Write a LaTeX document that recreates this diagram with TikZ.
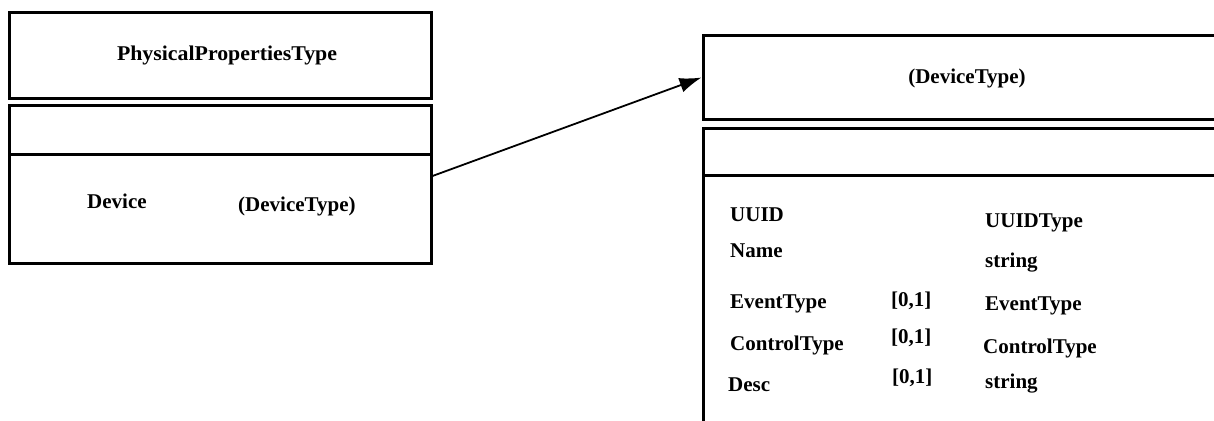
\documentclass[tikz,border=0pt]{standalone}
\usepackage{fontspec}
\setmainfont{Liberation Serif}
\usetikzlibrary{arrows.meta}
\begin{document}
\begin{tikzpicture}[x=1pt,y=-1pt,
  box/.style={draw=black,line width=3pt,rectangle,inner sep=0pt},
  lbl/.style={inner sep=0pt,font=\fontsize{21}{25}\selectfont\bfseries},
  lw/.style={lbl,anchor=base west},
  link/.style={line width=1.8pt,-{Latex[length=22pt,width=15pt]}}]
\useasboundingbox (0,0) rectangle (1214,420);
\clip (0,0) rectangle (1214,420);
\fill[white] (0,0) rectangle (1214,420);

% PhysicalPropertiesType class
\node[box,minimum width=422pt,minimum height=85pt] (pphead) at (220,55.5) {};
\node[box,minimum width=422pt,minimum height=158pt] (ppbody) at (220,184) {};
\coordinate (ppdiv) at (9,154);
\draw[line width=3pt] (ppdiv) -- (ppdiv -| ppbody.east);
\node[lbl,anchor=base,xscale=1.04] (ppname) at (227,60) {PhysicalPropertiesType};
\node[lw] (ppattr) at (87,208) {Device};
\node[lw] (ppattrtype) at (238,211) {(DeviceType)};

% DeviceType class (runs past the right edge)
\node[box,minimum width=540pt,minimum height=83pt] (dthead) at (973,77.5) {};
\node[box,minimum width=540pt,minimum height=320pt] (dtbody) at (973,288) {};
\coordinate (dtdiv) at (703,175);
\draw[line width=3pt] (dtdiv) -- ++(540,0);
\node[lbl,anchor=base] (dtname) at (967,83) {(DeviceType)};

\node[lw] (a1) at (730,221) {UUID};
\node[lw] (a2) at (730,257) {Name};
\node[lw] (a3) at (730,308) {EventType};
\node[lw] (a4) at (730,350) {ControlType};
\node[lw] (a5) at (728,391) {Desc};

\node[lw] (m3) at (891,306) {[0,1]};
\node[lw] (m4) at (891,343) {[0,1]};
\node[lw] (m5) at (892,383) {[0,1]};

\node[lw] (t1) at (985,227) {UUIDType};
\node[lw] (t2) at (985,267) {string};
\node[lw] (t3) at (985,310) {EventType};
\node[lw] (t4) at (983,353) {ControlType};
\node[lw] (t5) at (985,388) {string};

% association
\draw[link] ([yshift=8pt]ppbody.east) -- (dthead.west);
\end{tikzpicture}
\end{document}
